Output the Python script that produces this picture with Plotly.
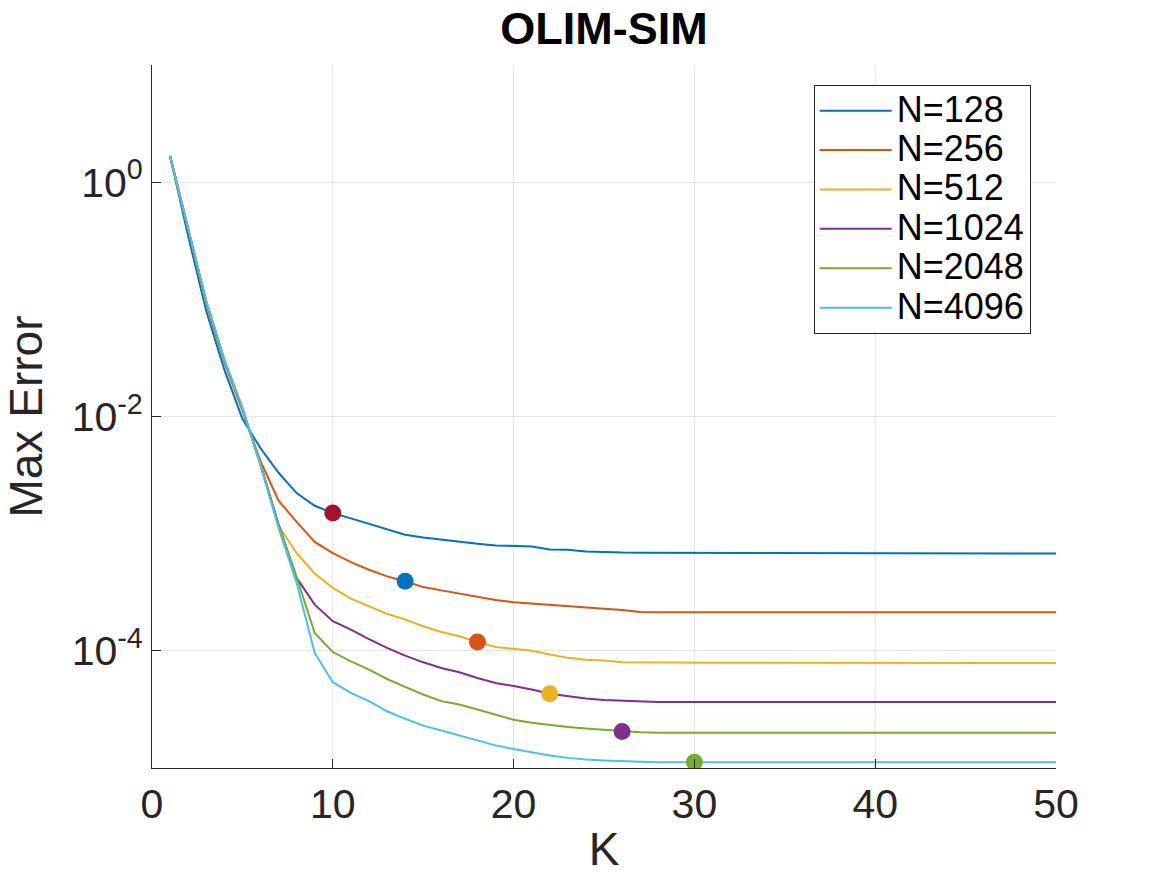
import plotly.graph_objects as go

K = list(range(1, 51))

N_LABELS = ["N=128", "N=256", "N=512", "N=1024", "N=2048", "N=4096"]
LINE_COLORS = ["#0072BD", "#D95319", "#EDB120", "#7E2F8E", "#77AC30", "#4DBEEE"]

err_128 = [1.67, 0.347, 0.0794, 0.0251, 0.00955, 0.00537, 0.00331, 0.00222, 0.00173, 0.00150,
           0.00135, 0.00121, 0.00109, 0.000980, 0.000929, 0.000887, 0.000847, 0.000820, 0.000794, 0.000785,
           0.000776, 0.000733, 0.000728, 0.000705, 0.000695, 0.000690, 0.000688, 0.000687, 0.000686, 0.000686,
           0.000685, 0.000685, 0.000684, 0.000684, 0.000684, 0.000683, 0.000683, 0.000683, 0.000683, 0.000683,
           0.000682, 0.000682, 0.000681, 0.000677, 0.000676, 0.000676, 0.000676, 0.000676, 0.000676, 0.000676]
err_256 = [1.67, 0.380, 0.0912, 0.0288, 0.0112, 0.00417, 0.00191, 0.00126, 0.000851, 0.000682,
           0.000571, 0.000492, 0.000432, 0.000392, 0.000350, 0.000328, 0.000308, 0.000288, 0.000272, 0.000260,
           0.000253, 0.000247, 0.000241, 0.000232, 0.000229, 0.000223, 0.000215, 0.000213, 0.000213, 0.000213,
           0.000213, 0.000213, 0.000213, 0.000213, 0.000213, 0.000213, 0.000213, 0.000213, 0.000213, 0.000213,
           0.000213, 0.000213, 0.000213, 0.000213, 0.000213, 0.000213, 0.000213, 0.000213, 0.000213, 0.000213]
err_512 = [1.67, 0.389, 0.0933, 0.0295, 0.0115, 0.00398, 0.00117, 0.000682, 0.000457, 0.000344,
           0.000279, 0.000240, 0.000207, 0.000185, 0.000162, 0.000145, 0.000133, 0.000119, 0.000108, 0.000104,
           0.000100, 0.0000929, 0.0000871, 0.0000841, 0.0000826, 0.0000798, 0.0000794, 0.0000791, 0.0000791, 0.0000790,
           0.0000790, 0.0000790, 0.0000789, 0.0000789, 0.0000789, 0.0000789, 0.0000788, 0.0000788, 0.0000788, 0.0000788,
           0.0000788, 0.0000788, 0.0000787, 0.0000787, 0.0000787, 0.0000787, 0.0000787, 0.0000787, 0.0000787, 0.0000787]
err_1024 = [1.67, 0.398, 0.0955, 0.0302, 0.0117, 0.00389, 0.00120, 0.000419, 0.000248, 0.000179,
            0.000152, 0.000126, 0.000106, 0.0000910, 0.0000798, 0.0000714, 0.0000656, 0.0000587, 0.0000532, 0.0000501,
            0.0000468, 0.0000430, 0.0000409, 0.0000392, 0.0000381, 0.0000376, 0.0000369, 0.0000366, 0.0000366, 0.0000366,
            0.0000366, 0.0000366, 0.0000366, 0.0000366, 0.0000366, 0.0000366, 0.0000366, 0.0000366, 0.0000366, 0.0000366,
            0.0000366, 0.0000366, 0.0000366, 0.0000366, 0.0000366, 0.0000366, 0.0000366, 0.0000366, 0.0000366, 0.0000366]
err_2048 = [1.67, 0.398, 0.0955, 0.0302, 0.0117, 0.00389, 0.00117, 0.000427, 0.000142, 0.0000977,
            0.0000813, 0.0000692, 0.0000575, 0.0000492, 0.0000424, 0.0000372, 0.0000348, 0.0000316, 0.0000284, 0.0000258,
            0.0000243, 0.0000232, 0.0000224, 0.0000217, 0.0000211, 0.0000205, 0.0000202, 0.0000200, 0.0000200, 0.0000200,
            0.0000200, 0.0000200, 0.0000200, 0.0000200, 0.0000200, 0.0000200, 0.0000200, 0.0000200, 0.0000200, 0.0000200,
            0.0000200, 0.0000200, 0.0000200, 0.0000200, 0.0000200, 0.0000200, 0.0000200, 0.0000200, 0.0000200, 0.0000200]
err_4096 = [1.67, 0.407, 0.0977, 0.0309, 0.0120, 0.00380, 0.00112, 0.000380, 0.0000959, 0.0000540,
            0.0000438, 0.0000372, 0.0000305, 0.0000263, 0.0000230, 0.0000209, 0.0000189, 0.0000173, 0.0000156, 0.0000145,
            0.0000136, 0.0000128, 0.0000122, 0.0000118, 0.0000116, 0.0000114, 0.0000113, 0.0000112, 0.0000112, 0.0000112,
            0.0000112, 0.0000112, 0.0000112, 0.0000112, 0.0000112, 0.0000112, 0.0000112, 0.0000112, 0.0000112, 0.0000112,
            0.0000112, 0.0000112, 0.0000112, 0.0000112, 0.0000112, 0.0000112, 0.0000112, 0.0000112, 0.0000112, 0.0000112]

SERIES = [err_128, err_256, err_512, err_1024, err_2048, err_4096]

# marker on each curve at the chosen K
MARK_K = [10, 14, 18, 22, 26, 30]
MARK_COLORS = ["#A2142F", "#0072BD", "#D95319", "#EDB120", "#7E2F8E", "#77AC30"]

X_TICKS = [0, 10, 20, 30, 40, 50]
X_GRID = [10, 20, 30, 40]
Y_TICKS = [1, 0.01, 0.0001]
Y_TICKTEXT = ["10<sup>0</sup>", "10<sup>-2</sup>", "10<sup>-4</sup>"]

FONT = "Liberation Sans, Arial, Helvetica, sans-serif"
AX = "#262626"

fig = go.Figure()
for name, ys, col in zip(N_LABELS, SERIES, LINE_COLORS):
    fig.add_trace(go.Scatter(x=K, y=ys, mode="lines",
                             name="<span style='font-size:36px'>" + name + "</span>",
                             line=dict(color=col, width=2)))

for ys, mk, mc in zip(SERIES, MARK_K, MARK_COLORS):
    fig.add_trace(go.Scatter(x=[mk], y=[ys[K.index(mk)]], mode="markers",
                             showlegend=False,
                             marker=dict(color=mc, size=17, line=dict(width=0))))

shapes = []
for g in X_GRID:
    shapes.append(dict(type="line", xref="x", yref="paper", x0=g, x1=g, y0=0, y1=1,
                       line=dict(color="#E3E3E3", width=1), layer="below"))

fig.update_layout(
    width=1167, height=875,
    margin=dict(l=152, r=111, t=65, b=107, autoexpand=False),
    paper_bgcolor="white", plot_bgcolor="white",
    font=dict(family=FONT, color=AX),
    title=dict(text="<b>OLIM-SIM</b>", x=0.5176, xanchor="center", y=0.968, yanchor="middle",
               font=dict(size=45, color="black", family=FONT)),
    showlegend=True,
    legend=dict(x=0.732, y=0.9716, xanchor="left", yanchor="top",
                bgcolor="white", bordercolor=AX, borderwidth=1,
                font=dict(size=28, color="black", family=FONT),
                itemwidth=72),
    shapes=shapes,
)

fig.update_xaxes(range=[0, 50], tickvals=X_TICKS, ticks="inside", ticklen=9,
                 tickcolor=AX, tickwidth=1, showline=True, linecolor=AX, linewidth=1,
                 showgrid=False, zeroline=False, mirror=False, automargin=False,
                 tickfont=dict(size=41, color=AX, family=FONT),
                 title=dict(text="K", font=dict(size=46, color=AX, family=FONT), standoff=10))
fig.update_yaxes(type="log", range=[-5, 1], tickvals=Y_TICKS, ticktext=Y_TICKTEXT,
                 ticks="inside", ticklen=9, tickcolor=AX, tickwidth=1,
                 showline=True, linecolor=AX, linewidth=1, automargin=False,
                 showgrid=True, gridcolor="#E3E3E3", gridwidth=1, zeroline=False,
                 tickfont=dict(size=41, color=AX, family=FONT),
                 title=dict(text="Max Error", font=dict(size=46, color=AX, family=FONT), standoff=14))

fig.write_html("out.html")
